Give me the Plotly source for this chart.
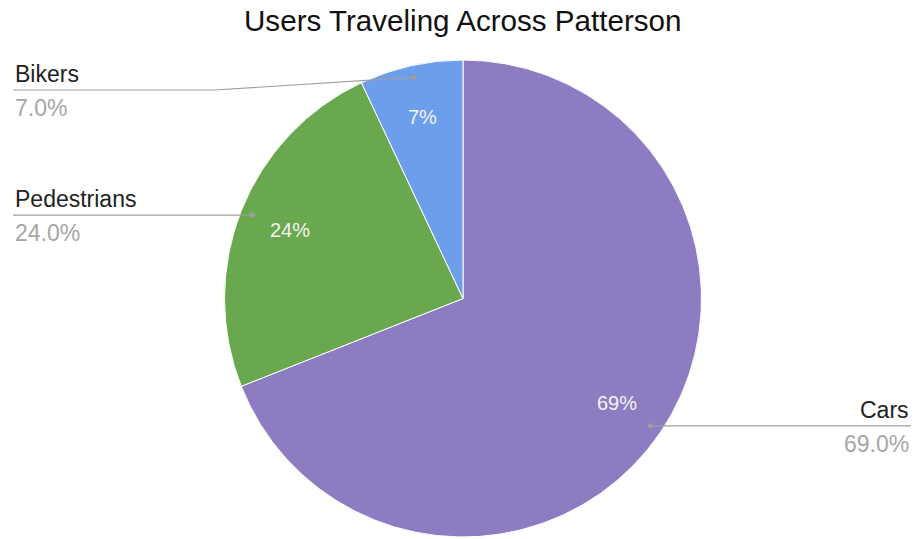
import math
import plotly.graph_objects as go

# Data
categories = ["Cars", "Pedestrians", "Bikers"]
shares = [69.0, 24.0, 7.0]
colors = ["#8e7cc3", "#6aa84f", "#6d9eeb"]
title_text = "Users Traveling Across Patterson"

# Canvas / pie geometry (pixels)
W, H = 914, 539
CX, CY, R = 463.0, 298.5, 238.5
LABEL_TOP = 90.0           # outside labels never go above this row
LEFT_X, RIGHT_X = 13.0, 911.0
GRAY_LINE = "#9e9e9e"
FONT = "Liberation Sans, Arial, sans-serif"

fig = go.Figure()

fig.add_trace(go.Pie(
    labels=categories,
    values=shares,
    sort=False,
    direction="clockwise",
    rotation=0,
    marker=dict(colors=colors, line=dict(color="white", width=1)),
    textinfo="none",
    hoverinfo="label+percent",
    showlegend=False,
    domain=dict(x=[(CX - R) / W, (CX + R) / W],
                y=[1 - (CY + R) / H, 1 - (CY - R) / H]),
))

total = sum(shares)
shapes = []
annotations = []
cum = 0.0
for name, val in zip(categories, shares):
    mid = (cum + val / 2) / total * 2 * math.pi   # clockwise from 12 o'clock
    cum += val
    sx, sy = math.sin(mid), -math.cos(mid)

    # percentage inside the slice
    annotations.append(dict(
        x=CX + 0.78 * R * sx, y=CY + 0.78 * R * sy, xref="x", yref="y",
        text=f"{val / total * 100:.0f}%", showarrow=False,
        font=dict(family=FONT, size=20, color="#f4f4f4"),
        xanchor="center", yanchor="middle"))

    # leader line from a dot on the slice to the outside label
    dx, dy = CX + 0.95 * R * sx, CY + 0.95 * R * sy
    ly = max(dy, LABEL_TOP)
    right = sx > 0
    ex = CX + R + 10 if right else CX - R - 10
    tx = RIGHT_X if right else LEFT_X
    path = f"M {dx},{dy} L {ex},{ly} L {tx},{ly}"
    shapes.append(dict(type="path", path=path, xref="x", yref="y",
                       line=dict(color=GRAY_LINE, width=1.2)))
    shapes.append(dict(type="circle", xref="x", yref="y",
                       x0=dx - 2.5, x1=dx + 2.5, y0=dy - 2.5, y1=dy + 2.5,
                       fillcolor=GRAY_LINE, line=dict(width=0)))

    anchor = "right" if right else "left"
    annotations.append(dict(
        x=tx, y=ly - 1, xref="x", yref="y", text=name, showarrow=False,
        font=dict(family=FONT, size=23, color="#222222"),
        xanchor=anchor, yanchor="bottom"))
    annotations.append(dict(
        x=tx, y=ly + 3, xref="x", yref="y", text=f"{val / total * 100:.1f}%",
        showarrow=False, font=dict(family=FONT, size=23, color="#a6a6a6"),
        xanchor=anchor, yanchor="top"))

annotations.append(dict(
    x=CX, y=20, xref="x", yref="y", text=title_text, showarrow=False,
    font=dict(family=FONT, size=29.6, color="#111111"),
    xanchor="center", yanchor="middle"))

fig.update_layout(
    width=W, height=H,
    margin=dict(l=0, r=0, t=0, b=0),
    paper_bgcolor="white", plot_bgcolor="rgba(0,0,0,0)",
    xaxis=dict(range=[0, W], visible=False, fixedrange=True),
    yaxis=dict(range=[H, 0], visible=False, fixedrange=True),
    shapes=shapes,
    annotations=annotations,
)

fig.write_html("out.html")
